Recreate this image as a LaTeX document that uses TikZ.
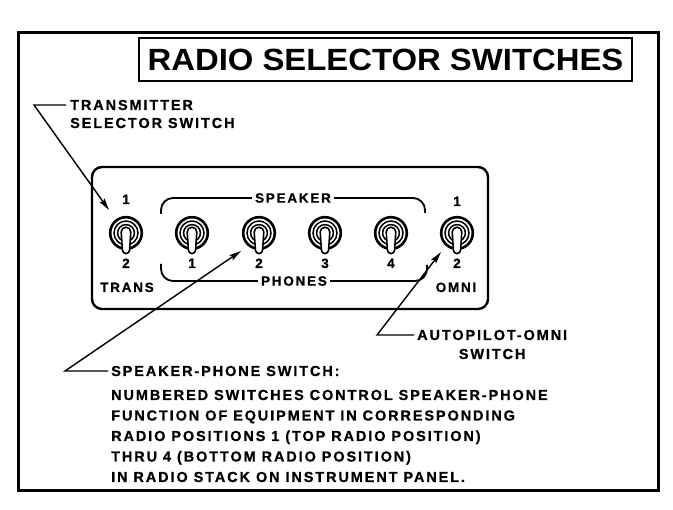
\documentclass[tikz,border=0pt]{standalone}
\usepackage{fontspec}
\setmainfont{Liberation Sans}
\newfontfamily\lblfam[LetterSpace=13,FakeBold=0.7]{Liberation Sans Bold}
\newfontfamily\ttlfam{Liberation Sans}
\usetikzlibrary{arrows.meta}
\begin{document}
\begin{tikzpicture}[x=1pt,y=-1pt,
  lbl/.style={font=\lblfam\fontsize{14.5}{16}\selectfont, inner sep=0pt},
  plbl/.style={font=\lblfam\fontsize{13.5}{15}\selectfont, inner sep=0pt},
  leader/.style={line width=1.4pt},
  arr/.style={leader, -{Stealth[length=12pt,width=6pt,inset=2pt]}},
  bracket/.style={line width=1.8pt, rounded corners=12pt},
  toggle/.pic={
    \draw[line width=2.6pt] (0,0) circle[radius=15.8];
    \draw[line width=1.5pt] (0,0) circle[radius=12];
    \draw[line width=1.5pt] (0,0) circle[radius=8.4];
    \draw[line width=1.6pt, fill=white] (-4.8,-1) arc[start angle=180,end angle=360,radius=4.8]
      -- (3.6,17) arc[start angle=0,end angle=180,radius=3.6] -- cycle;
  }]
\useasboundingbox (0,0) rectangle (673,510);
\fill[white] (0,0) rectangle (673,510);
% outer frame
\draw[line width=3pt] (18,33) rectangle (658,491);
% title
\node (title) [draw, line width=2.5pt, minimum width=493pt, minimum height=43pt, inner sep=0pt,
  font=\ttlfam\bfseries\fontsize{30.7}{32}\selectfont] at (385.5,59.5)
  {\scalebox{1.07}[1]{RADIO SELECTOR SWITCHES}};
% panel
\draw[line width=2.4pt, rounded corners=10pt] (92,167) rectangle (488,309);
% switches
\coordinate (swT) at (126,233);
\coordinate (sw1) at (192,233);
\coordinate (sw2) at (259,233);
\coordinate (sw3) at (325,233);
\coordinate (sw4) at (391,233);
\coordinate (swO) at (457,233);
\foreach \c in {swT,sw1,sw2,sw3,sw4,swO} \pic at (\c) {toggle};
% switch labels
\node (tT1) [plbl, anchor=base] at (126,204) {1};
\node (tT2) [plbl, anchor=base] at (126,268) {2};
\node (tTr) [plbl, anchor=base] at (127,292) {TRANS};
\node (n1) [plbl, anchor=base] at (192,268) {1};
\node (n2) [plbl, anchor=base] at (259,268) {2};
\node (n3) [plbl, anchor=base] at (325,268) {3};
\node (n4) [plbl, anchor=base] at (391,268) {4};
\node (tO1) [plbl, anchor=base] at (457,206) {1};
\node (tO2) [plbl, anchor=base] at (457,268) {2};
\node (tOm) [plbl, anchor=base] at (456,292) {OMNI};
\node (spk) [plbl, inner sep=3pt] at (293,198) {SPEAKER};
\node (phn) [plbl, inner sep=3pt] at (294,281) {PHONES};
\draw[bracket] (161,214) |- (spk.west);
\draw[bracket] (spk.east) -| (425,213);
\draw[bracket] (161,264) |- (phn.west);
\draw[bracket] (phn.east) -| (427,265);
% transmitter label
\node (tx1) [lbl, anchor=base west] at (70,110) {TRANSMITTER};
\node (tx2) [lbl, anchor=base west] at (70,128) {SELECTOR SWITCH};
\coordinate (kA) at (34,105);
\coordinate (tipA) at (109,210);
\draw[arr] (tx1.west) ++(-4,0) -- (tx1.west -| kA) -- (tipA);
% speaker-phone label
\node (sp1) [lbl, anchor=base west] at (111,376) {SPEAKER-PHONE SWITCH:};
\node (sp2) [lbl, anchor=base west] at (111,400) {NUMBERED SWITCHES CONTROL SPEAKER-PHONE};
\node (sp3) [lbl, anchor=base west] at (111,420.5) {FUNCTION OF EQUIPMENT IN CORRESPONDING};
\node (sp4) [lbl, anchor=base west] at (111,441) {RADIO POSITIONS 1 (TOP RADIO POSITION)};
\node (sp5) [lbl, anchor=base west] at (111,461.5) {THRU 4 (BOTTOM RADIO POSITION)};
\node (sp6) [lbl, anchor=base west] at (111,482) {IN RADIO STACK ON INSTRUMENT PANEL.};
\coordinate (kB) at (65,371);
\coordinate (tipB) at (241,251);
\draw[arr] (sp1.west) ++(-3,0) -- (sp1.west -| kB) -- (tipB);
% autopilot label
\node (ap1) [lbl, anchor=base west] at (417,340) {AUTOPILOT-OMNI};
\node (ap2) [lbl, anchor=base] at (ap1.base -| ap1.center) [yshift=-19pt] {SWITCH};
\coordinate (kC) at (377,335);
\coordinate (tipC) at (441,252);
\draw[arr] (ap1.west) ++(-3,0) -- (ap1.west -| kC) -- (tipC);
\end{tikzpicture}
\end{document}
